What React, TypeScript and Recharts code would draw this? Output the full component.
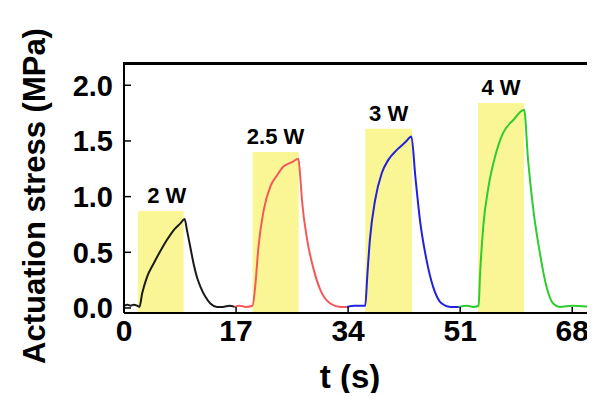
import React from 'react';
import {
  ComposedChart,
  Line,
  XAxis,
  YAxis,
  ReferenceArea,
  ReferenceLine,
  Label
} from 'recharts';

// time (s) and stress (MPa) for each power step
const blackT = [0, 0.5, 1, 1.5, 2, 2.35, 2.75, 3.5, 4.5, 5.5, 6.5, 7.55, 8.56, 9.2, 9.55, 10.05, 10.55, 11.05, 11.6, 12.35, 13.1, 14.1, 15, 16, 16.8];
const blackY = [0.02, 0.03, 0.02, 0.03, 0.02, 0.01, 0.13, 0.28, 0.4, 0.51, 0.61, 0.7, 0.76, 0.8, 0.7, 0.55, 0.4, 0.28, 0.19, 0.1, 0.04, 0.01, 0.01, 0.02, 0.01];

const redT = [16.8, 17.5, 18.5, 19.5, 19.9, 20.4, 21.2, 22.2, 23.2, 24.2, 25.5, 26.45, 26.7, 27.0, 27.8, 28.8, 29.8, 31.3, 32.8, 33.8];
const redY = [0.01, 0.02, 0.01, 0.02, 0.19, 0.55, 0.88, 1.09, 1.19, 1.27, 1.31, 1.34, 1.21, 0.97, 0.61, 0.34, 0.16, 0.04, 0.01, 0.01];

const blueT = [33.8, 35, 36, 36.6, 36.9, 37.3, 38.1, 39.1, 40.1, 41.4, 42.7, 43.6, 44.2, 44.9, 45.9, 46.9, 48.2, 49.5, 50.8];
const blueY = [0.01, 0.02, 0.02, 0.02, 0.28, 0.61, 0.97, 1.21, 1.33, 1.42, 1.49, 1.54, 1.18, 0.79, 0.43, 0.19, 0.04, 0.01, 0.01];

const greenT = [50.8, 52, 53, 53.8, 54.0, 54.5, 55.3, 56.3, 57.5, 59.1, 60.7, 61.3, 62.1, 63.1, 64.1, 65.1, 66.1, 68, 70.7];
const greenY = [0.01, 0.02, 0.01, 0.02, 0.28, 0.73, 1.09, 1.36, 1.57, 1.69, 1.78, 1.33, 0.88, 0.49, 0.19, 0.04, 0.01, 0.02, 0.01];

// laser-on windows
const pulseStart = [2.1, 19.5, 36.6, 53.7];
const pulseEnd = [9.05, 26.5, 43.7, 60.7];
const pulseTop = [0.87, 1.4, 1.61, 1.84];
const pulseLabel = ['2 W', '2.5 W', '3 W', '4 W'];

const xTicks = [0, 17, 34, 51, 68];
const yTicks = [0, 0.5, 1.0, 1.5, 2.0];

const X_MAX = 71;
const Y_MIN = -0.045;
const Y_MAX = 2.2;
const FONT = 'Arial, "Liberation Sans", sans-serif';
const labelNudge = [6, 0, 0, 0];

const W = 595;
const H = 401;
const MARGIN = { top: 63, right: 3, bottom: 0, left: 0 };
const Y_AXIS_W = 124;
const X_AXIS_H = 88;

const toRows = (t, y) => t.map((v, i) => ({ t: v, s: y[i] }));

const series = [
  { name: '2 W', data: toRows(blackT, blackY), color: '#1a1a1a' },
  { name: '2.5 W', data: toRows(redT, redY), color: '#f25a5a' },
  { name: '3 W', data: toRows(blueT, blueY), color: '#2222dd' },
  { name: '4 W', data: toRows(greenT, greenY), color: '#2ecc2e' }
];

const XTitle = () => (
  <text x={350} y={388} textAnchor="middle" fontFamily={FONT} fontWeight="bold" fontSize={33} fill="#000">
    t (s)
  </text>
);

const YTitle = () => (
  <text
    x={45}
    y={196}
    transform="rotate(-90, 45, 196)"
    textAnchor="middle"
    fontFamily={FONT}
    fontWeight="bold"
    fontSize={31}
    fill="#000"
  >
    Actuation stress (MPa)
  </text>
);

export default function App() {
  const frame: React.CSSProperties = {
    position: 'absolute',
    left: MARGIN.left + Y_AXIS_W - 1,
    top: MARGIN.top - 1,
    width: W - MARGIN.left - MARGIN.right - Y_AXIS_W - 2,
    height: H - MARGIN.top - MARGIN.bottom - X_AXIS_H - 2,
    borderTop: '2px solid #000',
    borderRight: '2px solid #000',
    boxSizing: 'content-box',
    pointerEvents: 'none',
    zIndex: 10
  };
  return (
    <div style={{ position: 'relative', margin: -8, width: W, height: H, background: '#fff' }}>
      <ComposedChart width={W} height={H} margin={MARGIN}>
        <XAxis
          dataKey="t"
          type="number"
          domain={[0, X_MAX]}
          ticks={xTicks}
          allowDataOverflow
          height={X_AXIS_H}
          axisLine={{ stroke: '#000', strokeWidth: 2 }}
          tickLine={{ stroke: '#000', strokeWidth: 1.5 }}
          tickSize={-6}
          tickMargin={13}
          tick={{ fill: '#000', fontSize: 30, fontWeight: 'bold', fontFamily: FONT }}
        >
          <Label content={XTitle} />
        </XAxis>
        <YAxis
          type="number"
          domain={[Y_MIN, Y_MAX]}
          ticks={yTicks}
          allowDataOverflow
          width={Y_AXIS_W}
          axisLine={{ stroke: '#000', strokeWidth: 2 }}
          tickLine={{ stroke: '#000', strokeWidth: 1.5 }}
          tickSize={-7}
          tickMargin={18}
          tickFormatter={(v) => v.toFixed(1)}
          tick={{ fill: '#000', fontSize: 29, fontWeight: 'bold', fontFamily: FONT }}
        >
          <Label content={YTitle} />
        </YAxis>
        {pulseStart.map((x1, i) => (
          <ReferenceArea
            key={pulseLabel[i]}
            x1={x1}
            x2={pulseEnd[i]}
            y1={Y_MIN}
            y2={pulseTop[i]}
            fill="#faf696"
            fillOpacity={1}
            stroke="none"
            ifOverflow="hidden"
            label={{
              value: pulseLabel[i],
              position: 'top',
              offset: 8,
              dx: labelNudge[i],
              fill: '#000',
              fontSize: 22,
              fontWeight: 'bold',
              fontFamily: FONT
            }}
          />
        ))}
        {series.map((s) => (
          <Line
            key={s.name}
            data={s.data}
            dataKey="s"
            type="monotone"
            stroke={s.color}
            strokeWidth={2}
            dot={false}
            activeDot={false}
            isAnimationActive={false}
          />
        ))}
        <ReferenceLine y={2.19} stroke="#000" strokeWidth={2} ifOverflow="extendDomain" />
        <ReferenceLine x={70.85} stroke="#000" strokeWidth={2} ifOverflow="extendDomain" />
      </ComposedChart>
      <div style={frame} />
    </div>
  );
}
